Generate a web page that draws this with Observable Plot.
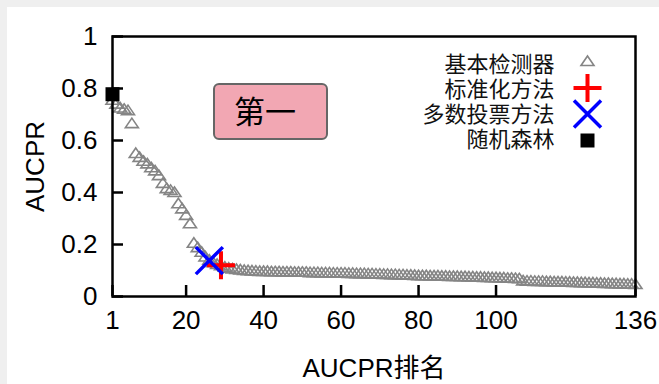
<!DOCTYPE html>
<html>
<head>
<meta charset="utf-8">
<script src="https://cdn.jsdelivr.net/npm/d3@7"></script>
<script src="https://cdn.jsdelivr.net/npm/@observablehq/plot@0.6"></script>
<style>
  html, body { margin: 0; padding: 0; }
  body { background: #efefef; width: 659px; height: 384px; overflow: hidden; position: relative;
         font-family: "Liberation Sans", "Noto Sans CJK SC", sans-serif; }
  #wrap { position: absolute; left: 7px; top: 7px; width: 652px; height: 377px; background: #fff; }
  #wrap svg { position: absolute; left: 0; top: 0; }
  #box { position: absolute; left: 206px; top: 76px; width: 115px; height: 57px; box-sizing: border-box;
         background: #f2a7b3; border: 2px solid #666; border-radius: 6px;
         font-family: "Noto Sans CJK SC", sans-serif; font-size: 31px; line-height: 50px;
         padding-left: 19px; color: #000; }
</style>
</head>
<body>
<div id="wrap"><div id="box">第一</div></div>
<script>
// ---- data ----
const xTicks = [1, 20, 40, 60, 80, 100, 136];
const yTicks = [0, 0.2, 0.4, 0.6, 0.8, 1];

// 基本检测器 AUCPR by rank 1..136
const baseValues = [
  0.755, 0.74, 0.725, 0.72, 0.715, 0.665, 0.55, 0.535, 0.52, 0.51,
  0.495, 0.483, 0.465, 0.435, 0.415, 0.408, 0.40, 0.357, 0.337, 0.312,
  0.28, 0.205, 0.188, 0.17, 0.152, 0.14, 0.13, 0.123, 0.118, 0.113,
  0.109, 0.106, 0.104, 0.102, 0.100, 0.099, 0.098, 0.097, 0.096, 0.096,
  0.096, 0.095, 0.095, 0.095, 0.094, 0.094, 0.094, 0.093, 0.093, 0.093,
  0.093, 0.092, 0.092, 0.092, 0.091, 0.091, 0.091, 0.090, 0.090, 0.090,
  0.090, 0.089, 0.089, 0.088, 0.088, 0.088, 0.087, 0.087, 0.086, 0.086,
  0.085, 0.085, 0.084, 0.084, 0.083, 0.083, 0.082, 0.082, 0.081, 0.080,
  0.080, 0.080, 0.079, 0.079, 0.079, 0.078, 0.078, 0.077, 0.077, 0.077,
  0.076, 0.076, 0.075, 0.075, 0.074, 0.074, 0.073, 0.073, 0.072, 0.072,
  0.071, 0.071, 0.070, 0.070, 0.069, 0.068,
  0.060, 0.059, 0.059, 0.058, 0.058, 0.058, 0.057, 0.057, 0.056, 0.056,
  0.056, 0.055, 0.055, 0.054, 0.054, 0.053, 0.053, 0.052, 0.052, 0.051,
  0.051, 0.050, 0.050, 0.049, 0.049, 0.048, 0.048, 0.047, 0.047, 0.046
];
// 标准化方法
const normRank = [29];
const normValue = [0.12];
// 多数投票方法
const voteRank = [26];
const voteValue = [0.138];
// 随机森林
const rfRank = [1];
const rfValue = [0.778];

const legendLabels = ["基本检测器", "标准化方法", "多数投票方法", "随机森林"];

// ---- symbols ----
const triSymbol = { draw(ctx) { ctx.moveTo(0, -5.5); ctx.lineTo(6.5, 4); ctx.lineTo(-6.5, 4); ctx.closePath(); } };
const plusSymbol = { draw(ctx) { ctx.moveTo(-14, 0); ctx.lineTo(14, 0); ctx.moveTo(0, -14); ctx.lineTo(0, 14); } };
const xSymbol = { draw(ctx) { ctx.moveTo(-13.5, -13.5); ctx.lineTo(13.5, 13.5); ctx.moveTo(-13.5, 13.5); ctx.lineTo(13.5, -13.5); } };
const sqSymbol = { draw(ctx) { ctx.moveTo(-7, -7); ctx.lineTo(7, -7); ctx.lineTo(7, 7); ctx.lineTo(-7, 7); ctx.closePath(); } };

const legendStyles = [
  { symbol: triSymbol, fill: "none", stroke: "#858585", strokeWidth: 1.6 },
  { symbol: plusSymbol, fill: "none", stroke: "#ff0000", strokeWidth: 4 },
  { symbol: xSymbol, fill: "none", stroke: "#0000ff", strokeWidth: 3.5 },
  { symbol: sqSymbol, fill: "#000", stroke: "none", strokeWidth: 0 }
];

const W = 652, H = 377, mL = 105, mT = 29, mR = 24, mB = 88;
const plotW = W - mL - mR, plotH = H - mT - mB;

const legendTextDy = [28, 53, 78, 103];
const legendSymDy = [25, 51.5, 77.5, 104];

const legendMarks = [];
legendLabels.forEach((lab, i) => {
  legendMarks.push(Plot.text([lab], {
    frameAnchor: "top-right", text: d => d, dx: -81, dy: legendTextDy[i],
    textAnchor: "end", lineAnchor: "middle", fontSize: 22, fill: "#111",
    fontFamily: "Noto Sans CJK SC"
  }));
  legendMarks.push(Plot.dot([lab], {
    frameAnchor: "top-right", dx: -48, dy: legendSymDy[i], r: 5, ...legendStyles[i]
  }));
});

const chart = Plot.plot({
  width: W, height: H,
  marginLeft: mL, marginTop: mT, marginRight: mR, marginBottom: mB,
  style: { fontFamily: "'Liberation Sans', 'Noto Sans CJK SC', sans-serif", fontSize: "26px", color: "#000", background: "transparent", overflow: "visible" },
  x: { domain: [1, 136] },
  y: { domain: [0, 1] },
  marks: [
    Plot.axisX({ ticks: xTicks, tickSize: 0, tickPadding: 14, tickFormat: d => String(d),
                 label: "AUCPR排名", labelAnchor: "center", labelOffset: 80, labelArrow: "none" }),
    Plot.axisY({ ticks: yTicks, tickSize: 0, tickPadding: 15, tickFormat: d => String(d),
                 label: "AUCPR", labelAnchor: "center", labelOffset: 87, labelArrow: "none" }),
    Plot.tickX(xTicks, { x: d => d, insetTop: plotH - 11, stroke: "#000", strokeWidth: 2.5 }),
    Plot.tickY(yTicks, { y: d => d, insetRight: plotW - 11, stroke: "#000", strokeWidth: 2.5 }),
    Plot.dot(baseValues, { x: (d, i) => i + 1, y: d => d, r: 5, ...legendStyles[0] }),
    Plot.dot(normValue, { x: (d, i) => normRank[i], y: d => d, r: 5, ...legendStyles[1] }),
    Plot.dot(voteValue, { x: (d, i) => voteRank[i], y: d => d, r: 5, ...legendStyles[2] }),
    Plot.dot(rfValue, { x: (d, i) => rfRank[i], y: d => d, r: 5, ...legendStyles[3] }),
    Plot.frame({ stroke: "#000", strokeWidth: 2.5 }),
    ...legendMarks
  ]
});
document.getElementById("wrap").insertBefore(chart, document.getElementById("box"));
</script>
</body>
</html>
